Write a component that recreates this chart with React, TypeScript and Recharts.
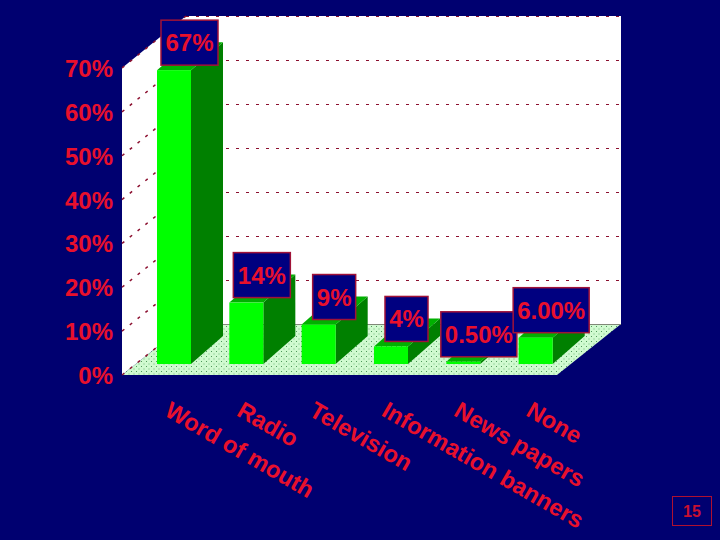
import { BarChart, Bar, XAxis, YAxis, LabelList } from "recharts";

const categories = ["Word of mouth", "Radio", "Television", "Information banners", "News papers", "None"];
const shares = [67, 14, 9, 4, 0.5, 6];
const shareLabels = ["67%", "14%", "9%", "4%", "0.50%", "6.00%"];
const yTicks = [0, 10, 20, 30, 40, 50, 60, 70];

const data = categories.map((name, i) => ({ name, share: shares[i], label: shareLabels[i] }));

const FONT = "'Liberation Sans', Arial, sans-serif";
const RED = "#e8102c";
const NAVY = "#000070";
const BOX = "#000080";

// box widths for the value labels, they hug the text
const labelWidth = (s: string) => (s.length > 3 ? 76 : s.length > 2 ? 57 : 43);

function Bar3D({ x, y, width, height }: any) {
  const dx = 32;
  const dy = -28;
  const r = x + width;
  const b = y + height;
  return (
    <g>
      <polygon points={`${r},${y} ${r + dx},${y + dy} ${r + dx},${b + dy} ${r},${b}`} fill="#008000" />
      <polygon points={`${x},${y} ${r},${y} ${r + dx},${y + dy} ${x + dx},${y + dy}`} fill="#00b000" />
      <rect x={x} y={y} width={width} height={height} fill="#00ff00" />
    </g>
  );
}

function ValueLabel({ x, y, width, value }: any) {
  const w = labelWidth(value);
  const cx = x + width / 2 + 15.5;
  const bottom = y - 5;
  return (
    <g>
      <rect x={cx - w / 2} y={bottom - 45} width={w} height={45} fill={BOX} stroke="#a01238" strokeWidth={1.5} />
      <text x={cx} y={bottom - 14} textAnchor="middle" fontFamily={FONT} fontSize={24} fontWeight={700} fill={RED}>
        {value}
      </text>
    </g>
  );
}

function Backdrop() {
  // front plane of the box and the depth of the walls
  const left = 122;
  const right = 557;
  const frontBase = 375;
  const frontTop = 68;
  const backBase = 324;
  const backTop = 16;
  const dx = 64;
  const frontY = (v: number) => frontBase - (v / 70) * (frontBase - frontTop);
  const backY = (v: number) => backBase - (v / 70) * (backBase - backTop);
  return (
    <svg width={720} height={540} style={{ position: "absolute", left: 0, top: 0 }}>
      <defs>
        <pattern id="floorDots" width={5} height={5} patternUnits="userSpaceOnUse">
          <rect width={5} height={5} fill="#d0fad0" />
          <rect x={1} y={1} width={1} height={1} fill="#4e9a5a" />
          <rect x={3.5} y={3.5} width={1} height={1} fill="#6fb87a" />
        </pattern>
      </defs>
      <polygon
        points={`${left},${frontTop} ${left + dx},${backTop} ${right + dx},${backTop} ${right + dx},${backBase} ${left + dx},${backBase} ${left},${frontBase}`}
        fill="#ffffff"
      />
      <polygon
        points={`${left},${frontBase} ${right},${frontBase} ${right + dx},${backBase} ${left + dx},${backBase}`}
        fill="url(#floorDots)"
      />
      {yTicks.map((v) => (
        <g key={v}>
          <line
            x1={left + dx}
            y1={backY(v)}
            x2={right + dx}
            y2={backY(v)}
            stroke={v === 0 ? "#808878" : "#8c1030"}
            strokeWidth={1}
            strokeDasharray={v === 0 ? undefined : "3 7"}
            shapeRendering="crispEdges"
          />
          <line
            x1={left}
            y1={frontY(v)}
            x2={left + dx}
            y2={backY(v)}
            stroke="#8c1030"
            strokeWidth={1.5}
            strokeDasharray="3 7"
          />
        </g>
      ))}
    </svg>
  );
}

export default function App() {
  return (
    <div style={{ position: "fixed", left: 0, top: 0, width: 720, height: 540, background: NAVY, overflow: "hidden" }}>
      <Backdrop />
      <div style={{ position: "absolute", left: 0, top: 0 }}>
        <BarChart
          width={720}
          height={540}
          data={data}
          barSize={34}
          margin={{ top: 57, right: 148, bottom: 0, left: 78 }}
        >
          <XAxis
            dataKey="name"
            height={176}
            interval={0}
            axisLine={false}
            tickLine={false}
            tick={(p: any) => (
              <text
                x={p.x - 11}
                y={p.y + 43}
                transform={`rotate(30 ${p.x - 11} ${p.y + 43})`}
                fontFamily={FONT}
                fontSize={23.6}
                fontWeight={700}
                fill={RED}
              >
                {p.payload.value}
              </text>
            )}
          />
          <YAxis
            width={60}
            domain={[0, 70]}
            ticks={yTicks}
            axisLine={false}
            tickLine={false}
            tick={(p: any) => (
              <text x={113} y={p.y + 11 + 9} textAnchor="end" fontFamily={FONT} fontSize={24} fontWeight={700} fill={RED}>
                {`${p.payload.value}%`}
              </text>
            )}
          />
          <Bar dataKey="share" shape={<Bar3D />} isAnimationActive={false}>
            <LabelList dataKey="label" content={<ValueLabel />} />
          </Bar>
        </BarChart>
      </div>
      <div
        style={{
          position: "absolute",
          left: 672,
          top: 496,
          width: 38,
          height: 28,
          border: "1px solid #b01030",
          color: "#c81030",
          font: `700 16px ${FONT}`,
          lineHeight: "30px",
          textAlign: "center",
        }}
      >
        15
      </div>
    </div>
  );
}
